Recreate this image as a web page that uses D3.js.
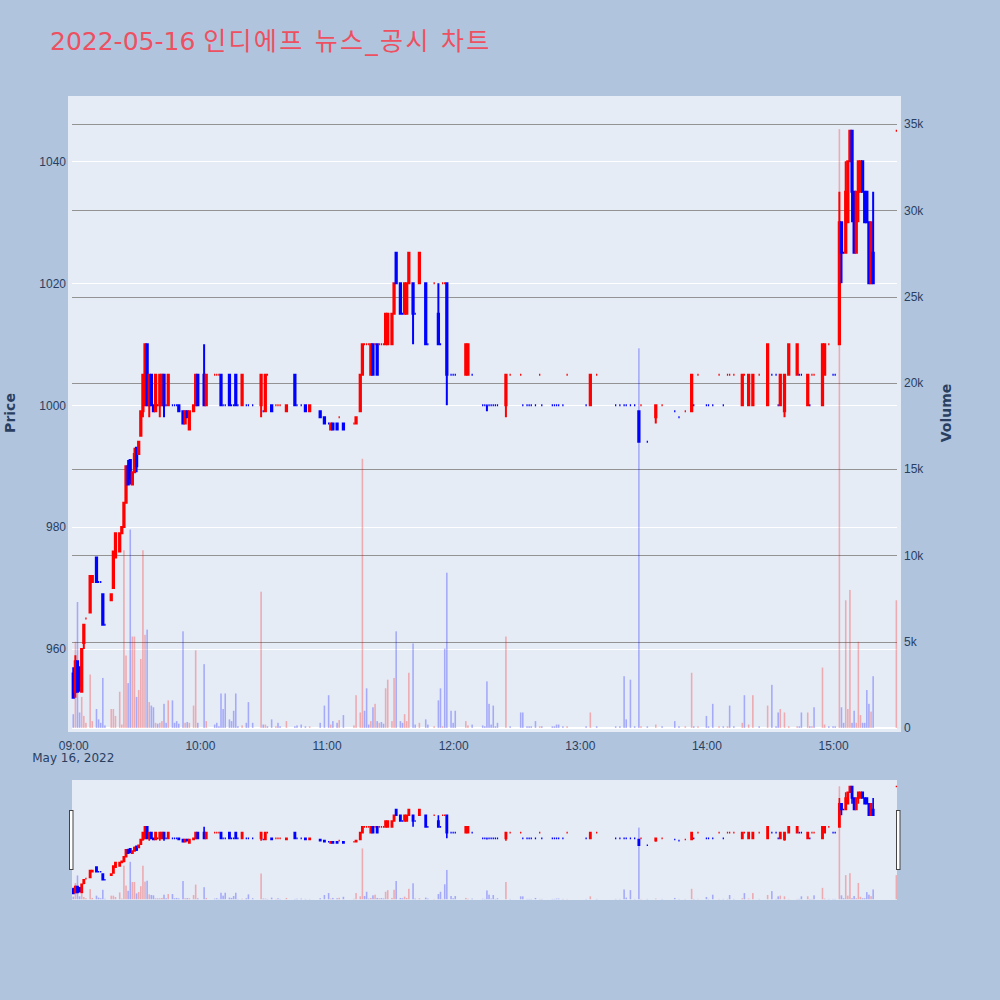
<!DOCTYPE html>
<html>
<head>
<meta charset="utf-8">
<script src="https://cdn.jsdelivr.net/npm/d3@7"></script>
<style>
  body { margin: 0; background: #b0c4de; }
  svg { display: block; font-family: "DejaVu Sans", Verdana, sans-serif; }
</style>
</head>
<body>
<div id="chart"></div>
<script>
// minute candles, 2022-05-16 (one row per hour)
var times = [
  "09:00","09:01","09:02","09:03","09:04","09:05","09:06","09:08","09:09","09:11","09:12","09:13","09:14","09:15","09:18","09:19","09:20","09:22","09:23","09:24","09:25","09:26","09:27","09:28","09:29","09:30","09:31","09:32","09:33","09:34","09:35","09:36","09:37","09:38","09:39","09:40","09:41","09:42","09:43","09:44","09:45","09:47","09:48","09:49","09:50","09:52","09:53","09:54","09:55","09:57","09:58","09:59",
  "10:02","10:03","10:07","10:08","10:09","10:10","10:11","10:12","10:14","10:15","10:16","10:17","10:18","10:20","10:22","10:23","10:25","10:29","10:30","10:31","10:32","10:34","10:36","10:37","10:38","10:41","10:45","10:46","10:48","10:50","10:52","10:57","10:59",
  "11:01","11:02","11:03","11:05","11:06","11:08","11:13","11:14","11:16","11:17","11:18","11:19","11:20","11:21","11:22","11:23","11:24","11:25","11:26","11:27","11:28","11:29","11:31","11:32","11:33","11:35","11:36","11:37","11:38","11:39","11:41","11:42","11:44","11:47","11:48","11:51","11:53","11:54","11:55","11:56","11:57","11:59",
  "12:00","12:01","12:06","12:07","12:09","12:14","12:15","12:16","12:17","12:18","12:19","12:20","12:21","12:25","12:27","12:32","12:33","12:35","12:36","12:37","12:39","12:41","12:42","12:47","12:48","12:49","12:50","12:52","12:54",
  "13:03","13:05","13:08","13:17","13:19","13:21","13:22","13:24","13:26","13:28","13:29","13:32","13:36","13:39","13:45","13:47","13:50","13:53","13:54","13:56",
  "14:00","14:01","14:03","14:06","14:08","14:10","14:11","14:13","14:17","14:18","14:20","14:22","14:25","14:29","14:31","14:33","14:34","14:35","14:37","14:39","14:43","14:44","14:45","14:48","14:49","14:50","14:51","14:55","14:56","14:58",
  "15:00","15:01","15:03","15:04","15:05","15:06","15:07","15:08","15:09","15:10","15:11","15:12","15:13","15:14","15:15","15:16","15:17","15:18","15:19","15:30"
];

var opens = [
  956,953,958,957,953,961,965,966,971,975,971,971,969,964,968,970,975,976,979,980,984,990,991,987,989,993,992,995,999,1000,1010,1000,1005,1000,999,1000,1000,1000,1005,1000,1000,1000,1000,1000,1000,999,997,999,996,999,1000,1005,
  1005,1000,1005,1005,1005,1005,1000,1000,1005,1000,1000,1005,1000,1000,1000,1000,1000,1000,999,999,1005,1000,1000,1000,1000,999,1005,1000,1000,1000,999,999,998,
  997,996,997,997,998,997,997,997,999,1005,1010,1010,1010,1005,1010,1010,1010,1010,1010,1010,1010,1010,1010,1015,1025,1020,1015,1015,1015,1020,1020,1015,1020,1020,1010,1020,1015,1010,1020,1020,1020,1005,
  1005,1005,1005,1005,1005,1000,1000,1000,1000,1000,1000,1000,1000,1000,1005,1005,1000,1000,1000,1000,1000,1005,1000,1000,1000,1000,1000,1000,1005,
  1000,1000,1005,1000,1000,1000,1000,1000,1000,999,1000,994,998,1000,999,998,999,999,1000,1005,
  1000,1000,1000,1005,1000,1005,1005,1005,1000,1005,1000,1000,1005,1000,1005,1005,1000,1000,999,1005,1005,1005,1005,1000,1000,1005,1005,1000,1005,1010,
  1005,1005,1010,1030,1025,1025,1030,1040,1045,1035,1025,1035,1035,1040,1035,1035,1030,1020,1025,1045
];

var highs = [
  957,959,958,957,960,964,965,972,972,975,971,971,969,964,969,976,979,979,980,984,990,991,991,989,993,993,994,999,1005,1010,1010,1005,1005,1000,1005,1000,1005,1005,1005,1000,1005,1000,1000,1000,1000,999,999,999,999,1000,1005,1005,
  1010,1005,1005,1005,1005,1005,1000,1000,1005,1000,1000,1005,1000,1005,1000,1000,1000,1005,999,1005,1005,1000,1000,1000,1000,1000,1005,1000,1000,1000,1000,999,998,
  997,997,997,997,998,997,997,998,1005,1010,1010,1010,1010,1010,1010,1010,1010,1010,1010,1010,1015,1015,1015,1020,1025,1020,1015,1020,1020,1025,1020,1015,1025,1020,1010,1020,1020,1010,1020,1020,1020,1005,
  1005,1005,1010,1010,1005,1000,1000,1000,1000,1000,1000,1000,1000,1005,1005,1005,1000,1000,1000,1000,1000,1005,1000,1000,1000,1000,1000,1000,1005,
  1000,1005,1005,1000,1000,1000,1000,1000,1000,999,1000,994,1000,1000,999,998,999,1005,1000,1005,
  1000,1000,1000,1005,1000,1005,1005,1005,1005,1005,1005,1005,1005,1010,1005,1005,1000,1005,1005,1010,1010,1005,1005,1005,1000,1005,1005,1010,1010,1010,
  1005,1005,1035,1030,1025,1040,1040,1045,1045,1035,1035,1040,1040,1040,1035,1035,1030,1030,1035,1045
];

var lows = [
  952,952,953,953,953,960,965,966,971,971,971,971,964,964,968,970,975,976,979,980,984,987,987,987,989,989,992,995,998,1000,1000,998,1000,999,999,1000,998,1000,998,1000,1000,1000,1000,1000,999,997,997,998,996,999,1000,1000,
  1000,1000,1005,1005,1005,1000,1000,1000,1000,1000,1000,1000,1000,1000,1000,1000,1000,998,999,999,1005,999,1000,1000,1000,999,1000,1000,1000,999,999,998,997,
  997,996,996,996,998,996,997,997,999,1005,1010,1010,1010,1005,1005,1010,1005,1010,1010,1010,1010,1010,1010,1015,1020,1015,1015,1015,1015,1020,1010,1015,1020,1010,1010,1020,1010,1010,1020,1020,1000,1005,
  1005,1005,1005,1005,1005,1000,1000,999,1000,1000,1000,1000,1000,998,1005,1005,1000,1000,1000,1000,1000,1005,1000,1000,1000,1000,1000,1000,1005,
  1000,1000,1005,1000,1000,1000,1000,1000,1000,994,1000,994,997,1000,999,998,999,999,1000,1005,
  1000,1000,1000,1005,1000,1005,1005,1005,1000,1005,1000,1000,1005,1000,1005,1005,1000,1000,998,1005,1005,1005,1005,1000,1000,1005,1005,1000,1005,1010,
  1005,1005,1010,1020,1025,1025,1030,1040,1030,1025,1025,1030,1035,1035,1030,1030,1020,1020,1020,1045
];

var closes = [
  952,958,953,954,960,964,965,972,972,971,971,971,964,964,969,976,979,979,980,984,990,987,988,989,992,990,994,999,1005,1010,1000,1005,1000,999,1005,1000,1005,1005,1000,1000,1005,1000,1000,1000,999,997,999,998,999,1000,1005,1000,
  1000,1005,1005,1005,1005,1000,1000,1000,1000,1000,1000,1000,1000,1005,1000,1000,1000,1005,999,1005,1005,999,1000,1000,1000,1000,1000,1000,1000,999,1000,998,997,
  997,997,996,996,998,996,997,998,1005,1010,1010,1010,1010,1010,1005,1010,1005,1010,1010,1010,1015,1015,1015,1020,1020,1015,1015,1020,1020,1025,1015,1015,1025,1010,1010,1020,1010,1010,1020,1020,1005,1005,
  1005,1005,1010,1010,1005,1000,1000,1000,1000,1000,1000,1000,1000,1005,1005,1005,1000,1000,1000,1000,1000,1005,1000,1000,1000,1000,1000,1000,1005,
  1000,1005,1005,1000,1000,1000,1000,1000,1000,994,1000,994,1000,1000,999,998,999,1005,1000,1005,
  1000,1000,1000,1005,1000,1005,1005,1005,1005,1005,1005,1005,1005,1010,1005,1005,1000,1005,1005,1010,1010,1005,1005,1005,1000,1005,1005,1010,1010,1010,
  1005,1005,1030,1025,1025,1035,1040,1045,1035,1025,1035,1040,1040,1035,1030,1030,1020,1030,1020,1045
];

var volumes = [
  800,5000,7300,900,1800,700,300,3100,400,1100,500,300,2900,150,1100,1100,700,2100,200,10300,4200,2600,11500,5300,5300,1800,2200,4000,10300,5400,5700,1500,1300,1200,300,250,300,400,1400,300,1600,1600,300,400,250,5600,300,350,300,1300,4500,300,
  3700,400,200,300,100,2000,1100,2000,500,400,1000,2000,100,150,300,1500,300,7900,200,200,100,500,100,300,100,400,100,150,200,100,100,300,1300,
  1900,200,400,300,460,750,150,1900,900,15600,1000,2300,200,400,1200,1400,400,300,350,250,2300,2800,400,2900,5600,400,300,800,400,3200,4900,200,300,500,200,100,1600,2300,100,4600,9000,1000,
  300,1000,400,150,200,150,100,2700,1400,200,1300,100,300,5300,100,900,900,100,100,100,400,100,100,100,100,200,200,100,100,
  100,900,100,100,100,3000,500,2800,100,22000,100,100,200,100,400,100,100,3200,100,100,
  700,100,1400,100,100,100,1300,100,300,1900,200,1900,100,1300,2500,100,900,1100,900,100,100,100,900,900,100,100,1200,3500,200,100,
  100,100,34700,1200,300,7400,1100,8000,300,1000,300,5000,750,300,300,2200,1400,950,3000,7400
];

var priceTicks = [960, 980, 1000, 1020, 1040];
var volumeTicks = [0, 5000, 10000, 15000, 20000, 25000, 30000, 35000];
var titleDate = "2022-05-16";
var titleName = "인디에프 뉴스_공시 차트";

var width = 1000;
var height = 1000;
var upColor = "#ff0000";
var downColor = "#0000ff";
var textColor = "#2a3f5f";

var parse = d3.timeParse("%Y-%m-%d %H:%M");
var data = times.map(function (t, i) {
  return { date: parse("2022-05-16 " + t), o: opens[i], h: highs[i], l: lows[i], c: closes[i], v: volumes[i] };
});

// candle direction the way plotly picks it (doji compares with previous close)
var prevClose = null;
var rising = true;
data.forEach(function (d) {
  if (d.c === d.o) {
    if (prevClose !== null && d.c !== prevClose) rising = d.c > prevClose;
  } else {
    rising = d.c > d.o;
  }
  d.up = rising;
  d.volUp = d.c > d.o || (d.c === d.o && prevClose !== null && d.c > prevClose);
  prevClose = d.c;
});

var svg = d3.select("#chart").append("svg").attr("width", width).attr("height", height);
svg.append("rect").attr("width", width).attr("height", height).attr("fill", "#b0c4de");

// main plot area
var plot = { left: 72, right: 897, top: 96, bottom: 732 };
var start = new Date(parse("2022-05-16 09:00").getTime() - 0.6 * 60000);
var end = new Date(parse("2022-05-16 15:30").getTime() + 0.3 * 60000);

var x = d3.scaleTime().domain([start, end]).range([plot.left, plot.right]);
var yPrice = d3.scaleLinear().domain([946.4, 1050.7]).range([plot.bottom, plot.top]);
var yVol = d3.scaleLinear().domain([-232, 36620]).range([plot.bottom, plot.top]);

svg.append("rect")
  .attr("x", 68).attr("y", plot.top)
  .attr("width", 901 - 68).attr("height", plot.bottom - plot.top)
  .attr("fill", "#e5ecf6");

svg.append("clipPath").attr("id", "clipMain")
  .append("rect").attr("x", 68).attr("y", plot.top)
  .attr("width", 901 - 68).attr("height", plot.bottom - plot.top);

// price grid (white)
svg.append("g").selectAll("line").data(priceTicks).enter().append("line")
  .attr("x1", plot.left).attr("x2", plot.right)
  .attr("y1", function (d) { return Math.round(yPrice(d)) + 0.5; })
  .attr("y2", function (d) { return Math.round(yPrice(d)) + 0.5; })
  .attr("stroke", "#ffffff").attr("stroke-width", 1);

// volume grid (gray) and zero line
svg.append("g").selectAll("line").data(volumeTicks.slice(1)).enter().append("line")
  .attr("x1", plot.left).attr("x2", plot.right)
  .attr("y1", function (d) { return Math.round(yVol(d)) + 0.5; })
  .attr("y2", function (d) { return Math.round(yVol(d)) + 0.5; })
  .attr("stroke", "#939393").attr("stroke-width", 1);
svg.append("line")
  .attr("x1", plot.left).attr("x2", plot.right)
  .attr("y1", yVol(0)).attr("y2", yVol(0))
  .attr("stroke", "#ffffff").attr("stroke-width", 2);

var step = x(parse("2022-05-16 09:01")) - x(parse("2022-05-16 09:00"));

// box + whiskers as one path, so an open == close candle still shows as a dash
function drawCandles(g, yScale, sw) {
  var bw = step * 0.6;
  g.selectAll(".candle").data(data).enter().append("path")
    .attr("class", "candle")
    .attr("d", function (d) {
      var cx = x(d.date), x0 = cx - bw / 2, x1 = cx + bw / 2;
      var yo = yScale(d.o), yc = yScale(d.c);
      var top = Math.min(yo, yc), bot = Math.max(yo, yc);
      return "M" + x0 + "," + yo + "H" + x1 + "V" + yc + "H" + x0 + "Z" +
        "M" + cx + "," + top + "V" + yScale(d.h) +
        "M" + cx + "," + bot + "V" + yScale(d.l);
    })
    .attr("fill", function (d) { return d.up ? upColor : downColor; })
    .attr("stroke", function (d) { return d.up ? upColor : downColor; })
    .attr("stroke-width", sw);
}

function drawVolume(g, yScale, bw) {
  g.selectAll(".vol").data(data).enter().append("rect")
    .attr("class", "vol")
    .attr("x", function (d) { return x(d.date) - bw / 2; })
    .attr("y", function (d) { return yScale(d.v); })
    .attr("width", bw)
    .attr("height", function (d) { return yScale(0) - yScale(d.v); })
    .attr("fill", function (d) { return d.volUp ? upColor : downColor; })
    .attr("opacity", 0.28);
}

var mainG = svg.append("g").attr("clip-path", "url(#clipMain)");
drawCandles(mainG.append("g"), yPrice, 2);
drawVolume(mainG.append("g"), yVol, step * 0.75);

// axes
var xAxis = d3.axisBottom(x)
  .ticks(d3.timeHour.every(1))
  .tickFormat(d3.timeFormat("%H:%M"))
  .tickSize(0).tickPadding(9);
var gx = svg.append("g").attr("transform", "translate(0," + plot.bottom + ")").call(xAxis);
gx.select(".domain").remove();
gx.selectAll("text").attr("fill", textColor).style("font-size", "12px");

svg.append("text")
  .attr("x", x(parse("2022-05-16 09:00"))).attr("y", 762)
  .attr("text-anchor", "middle")
  .attr("fill", textColor).style("font-size", "12px")
  .text("May 16, 2022");

var yAxisL = d3.axisLeft(yPrice).tickValues(priceTicks).tickFormat(d3.format("d")).tickSize(0).tickPadding(2);
var gyl = svg.append("g").attr("transform", "translate(" + 68 + ",0)").call(yAxisL);
gyl.select(".domain").remove();
gyl.selectAll("text").attr("fill", textColor).style("font-size", "12px");

var yAxisR = d3.axisRight(yVol).tickValues(volumeTicks).tickFormat(d3.format("~s")).tickSize(0).tickPadding(3);
var gyr = svg.append("g").attr("transform", "translate(" + 901 + ",0)").call(yAxisR);
gyr.select(".domain").remove();
gyr.selectAll("text").attr("fill", textColor).style("font-size", "12px");

svg.append("text")
  .attr("transform", "translate(15," + 413 + ") rotate(-90)")
  .attr("text-anchor", "middle")
  .attr("fill", textColor).style("font-size", "14px").style("font-weight", "bold")
  .text("Price");

svg.append("text")
  .attr("transform", "translate(951," + 413 + ") rotate(-90)")
  .attr("text-anchor", "middle")
  .attr("fill", textColor).style("font-size", "14px").style("font-weight", "bold")
  .text("Volume");

// title
var title = svg.append("text")
  .attr("x", 50).attr("y", 50)
  .attr("fill", "#ed5060")
  .style("font-family", "'DejaVu Sans', 'Noto Sans CJK KR', sans-serif")
  .style("font-size", "25px");
title.append("tspan").text(titleDate + " ");
title.append("tspan").style("letter-spacing", "2.3px").text(titleName);

// range slider
var slider = { top: 780, bottom: 900 };
var ySlidePrice = yPrice.copy().range([slider.bottom, slider.top]);
var ySlideVol = yVol.copy().range([slider.bottom, slider.top]);

svg.append("rect")
  .attr("x", plot.left).attr("y", slider.top)
  .attr("width", plot.right - plot.left).attr("height", slider.bottom - slider.top)
  .attr("fill", "#e5ecf6");

svg.append("clipPath").attr("id", "clipSlider")
  .append("rect").attr("x", plot.left).attr("y", slider.top)
  .attr("width", plot.right - plot.left).attr("height", slider.bottom - slider.top);

var slideG = svg.append("g").attr("clip-path", "url(#clipSlider)");
drawCandles(slideG.append("g"), ySlidePrice, 1.6);
drawVolume(slideG.append("g"), ySlideVol, step * 0.75);

[plot.left - 3, plot.right - 1].forEach(function (hx) {
  svg.append("rect")
    .attr("x", hx + 0.5).attr("y", 810.5)
    .attr("width", 3.5).attr("height", 59)
    .attr("fill", "#ffffff").attr("stroke", "#444").attr("stroke-width", 1);
});
</script>
</body>
</html>
